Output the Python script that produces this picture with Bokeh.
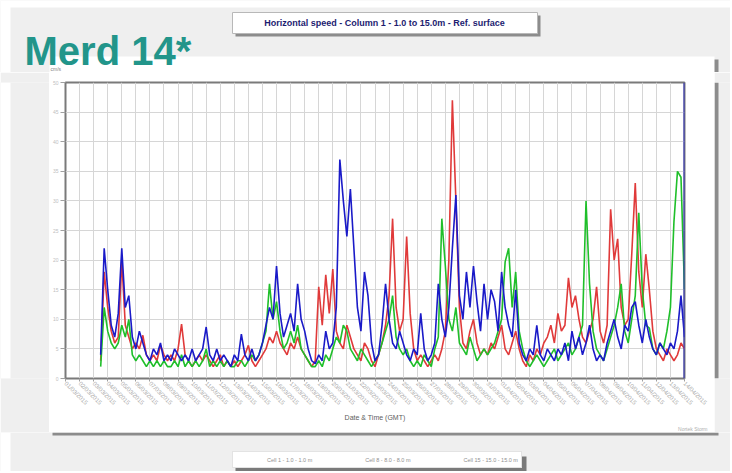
import pandas as pd
from bokeh.plotting import figure
from bokeh.models import (ColumnDataSource, Legend, LegendItem, Span, Title, GridBox,
                          FixedTicker, DatetimeTickFormatter, Range1d)
from bokeh.embed import file_html
from bokeh.resources import INLINE
from bokeh.core.properties import value

# ---------------- data ----------------
chart_title = "Horizontal speed - Column 1 - 1.0 to 15.0m - Ref. surface"
site_name = "Merd 14*"
y_unit = "cm/s"
x_title = "Date & Time (GMT)"
footer_text = "Nortek Storm"
series_names = ["Cell 1 - 1.0 - 1.0 m", "Cell 8 - 8.0 - 8.0 m", "Cell 15 - 15.0 - 15.0 m"]
series_colors = ["#e03a3a", "#1fbf2a", "#1a1ac8"]

first_sample = "2015-03-03 12:00"
sample_step = "6h"
axis_start = "2015-03-01"
axis_end = "2015-04-14"
y_ticks = [0, 5, 10, 15, 20, 25, 30, 35, 40, 45, 50]

red = [3, 18, 12, 8, 6, 7, 20, 9, 7, 5,
       6, 5, 7.3, 4, 3, 4, 3, 5.6, 4, 3,
       4, 3, 5, 9.2, 4, 3, 2, 3, 4, 3,
       4, 3, 2, 3, 4, 2, 3, 2, 3, 2,
       3, 4, 5.6, 3, 2, 3, 4, 5, 7, 6,
       8, 6, 5, 4, 6, 5, 7, 5, 4, 3,
       2, 3, 15.5, 9, 17.5, 11, 18.5, 8, 6, 5,
       9, 7, 5, 4, 3, 6, 5, 3, 2, 4,
       6, 9, 14, 27, 12, 8, 10, 24, 11, 5,
       3, 4, 3, 2, 3, 4, 3, 5, 8, 20,
       47, 30, 12, 6, 5, 8, 10, 6, 4, 5,
       4, 6, 5, 7, 9, 5, 4, 6, 8, 5,
       3, 2, 4, 3, 5, 4, 6, 7, 9, 6,
       11, 8, 9, 17, 12, 14, 10, 7, 6, 8,
       10, 15.5, 8, 6, 9, 28.6, 20, 23.6, 12, 9,
       10, 21, 33, 18, 12, 21, 15, 8, 5, 4,
       3, 5, 4, 3, 4, 6, 5]

green = [2, 12, 8, 6, 5, 6, 9, 7, 10, 4,
         3, 4, 3, 2, 3, 2, 3, 2, 3, 2,
         2, 3, 2, 4, 2, 3, 2, 3, 2, 3,
         5, 2, 3, 2, 3, 2, 3, 2, 2, 3,
         3, 2, 3, 4, 3, 4, 6, 8, 16, 10,
         13, 8, 5, 6, 8, 6, 9, 5, 4, 3,
         2, 2, 3, 2, 4, 3, 5, 7, 6, 9,
         8, 5, 4, 3, 5, 4, 3, 2, 3, 4,
         6, 8, 10, 14, 7, 5, 4, 5, 3, 2,
         3, 2, 4, 3, 2, 5, 7, 27, 19, 10,
         8, 12, 6, 5, 4, 7, 5, 3, 4, 5,
         4, 5, 6, 8, 10, 19.7, 22, 12, 18, 8,
         5, 3, 2, 3, 4, 3, 2, 3, 4, 5,
         3, 4, 5, 6, 4, 5, 7, 9, 30, 16,
         8, 5, 4, 3, 5, 7, 9, 12, 16, 8,
         6, 10, 14, 28, 15, 9, 8.5, 5, 4, 6,
         5, 8, 12, 26.5, 35, 34, 15]

blue = [4, 22, 15, 9, 7, 11, 22, 12, 14, 7,
        5, 8, 6, 4, 3, 5, 4, 6, 3, 4,
        3, 5, 4, 3, 4, 3, 5, 3, 4, 5,
        8.7, 4, 3, 5, 3, 4, 3, 2, 4, 3,
        7.5, 4, 3, 5, 3, 4, 6, 9, 12, 10,
        19, 11, 7, 9, 11, 8, 16, 10, 8, 5,
        3, 2.5, 4, 3, 8, 5, 6, 12, 37, 30,
        24, 32, 22, 12, 8, 18, 14, 6, 3, 4,
        9, 16, 10, 6, 5, 8, 6, 4, 3, 5,
        4, 11, 5, 3, 4, 6, 16, 10, 7, 12,
        22, 31, 14, 10, 18, 12, 19, 13, 8, 16,
        10, 15, 13, 8, 18, 12, 9, 7, 15, 6,
        4, 3, 5, 4, 9, 4, 3, 5, 4, 3,
        5, 4, 6, 3, 8, 5, 7, 4, 6, 9,
        5, 3, 4, 3, 6, 8, 10, 7, 5, 9,
        8, 12, 13, 9, 6, 10, 7, 5, 4, 6,
        5, 4, 6, 5, 8, 14, 7]

times = pd.date_range(first_sample, periods=len(blue), freq=sample_step)
src = ColumnDataSource(dict(t=times, red=red, green=green, blue=blue))
day_ticks = [int(d.value // 10**6) for d in pd.date_range(axis_start, axis_end, freq="1D")]

GRAY = "#efefef"
SHADOW = "#8c8c8c"
TOTAL_W = 730


def deco(w, h):
    f = figure(width=w, height=h, x_range=Range1d(0, w), y_range=Range1d(h, 0),
               output_backend="svg", toolbar_location=None, min_border=0,
               x_axis_location=None, y_axis_location=None, align="start")
    f.border_fill_color = GRAY
    f.background_fill_color = GRAY
    f.outline_line_color = None
    f.grid.visible = False
    return f


# ---------------- top strip (page y 0-72) ----------------
top = deco(TOTAL_W, 72)
top.quad(left=[0], right=[TOTAL_W], top=[0], bottom=[7], fill_color="white", line_color=None)
top.quad(left=[0], right=[10], top=[0], bottom=[72], fill_color="white", line_color=None)
top.quad(left=[52], right=[718], top=[59], bottom=[72], fill_color=SHADOW, line_color=None)
top.quad(left=[49], right=[714], top=[56], bottom=[72], fill_color="white", line_color=None)
top.quad(left=[235], right=[540], top=[15], bottom=[36], fill_color=SHADOW, line_color=None)
top.quad(left=[232], right=[537], top=[12], bottom=[33], fill_color="white", line_color="#b8b8b8")
top.text(x=[384], y=[22], text=[chart_title], text_align="center", text_baseline="middle",
         text_font=value("Liberation Sans"), text_font_size="9px", text_font_style="bold",
         text_color="#1c1c70")
top.text(x=[24], y=[50], text=[site_name], text_align="left", text_baseline="middle",
         text_font=value("Liberation Sans"), text_font_size="40px", text_font_style="bold",
         text_color="#22958a")
top.text(x=[50], y=[68], text=[y_unit], text_align="left", text_baseline="middle",
         text_font_size="5px", text_color="#808080")

# ---------------- main chart (page x 49-714, y 72-432) ----------------
p = figure(width=665, height=360, x_axis_type="datetime",
           x_range=Range1d(pd.Timestamp(axis_start), pd.Timestamp(axis_end)),
           y_range=Range1d(0, 50),
           output_backend="svg", toolbar_location=None, align="start",
           min_border_left=15, min_border_right=30,
           min_border_top=10, min_border_bottom=54)
p.border_fill_color = "white"
p.background_fill_color = "white"
p.outline_line_color = "#7a7a7a"
p.outline_line_width = 2

p.xgrid.ticker = FixedTicker(ticks=day_ticks)
p.xgrid.grid_line_color = "#d6d6d6"
p.ygrid.grid_line_color = "#d6d6d6"

p.xaxis.ticker = FixedTicker(ticks=day_ticks)
fmt = "%d/%m/%Y"
p.xaxis.formatter = DatetimeTickFormatter(days=fmt, months=fmt, years=fmt, hours=fmt,
                                          hourmin=fmt, minutes=fmt, minsec=fmt, seconds=fmt,
                                          milliseconds=fmt, microseconds=fmt)
p.xaxis.major_label_orientation = -0.785
p.xaxis.major_label_text_font_size = "6px"
p.xaxis.major_label_text_color = "#a8a8a8"
p.xaxis.major_label_standoff = 1
p.xaxis.major_tick_line_color = "#a0a0a0"
p.xaxis.major_tick_out = 3
p.xaxis.major_tick_in = 0
p.xaxis.minor_tick_line_color = None
p.xaxis.axis_line_color = "#7a7a7a"
p.xaxis.axis_label = x_title
p.xaxis.axis_label_text_font_size = "7px"
p.xaxis.axis_label_text_font_style = "normal"
p.xaxis.axis_label_text_color = "#606060"
p.xaxis.axis_label_standoff = 3

p.yaxis.ticker = FixedTicker(ticks=y_ticks)
p.yaxis.major_label_text_font_size = "5px"
p.yaxis.major_label_text_color = "#c0c0c0"
p.yaxis.major_label_standoff = 2
p.yaxis.major_tick_line_color = "#a0a0a0"
p.yaxis.major_tick_out = 5
p.yaxis.major_tick_in = 0
p.yaxis.minor_tick_line_color = None
p.yaxis.axis_line_color = "#7a7a7a"

p.add_layout(Title(text=footer_text, align="right", offset=-23, text_font_size="5px",
                   text_font_style="normal", text_color="#b0b0b0", standoff=0), "below")

r_red = p.line("t", "red", source=src, line_color=series_colors[0], line_width=1.6)
r_green = p.line("t", "green", source=src, line_color=series_colors[1], line_width=1.6)
r_blue = p.line("t", "blue", source=src, line_color=series_colors[2], line_width=1.6)

p.add_layout(Span(location=pd.Timestamp(axis_end), dimension="height",
                  line_color="#3030c0", line_width=2))

# ---------------- side strips ----------------
left_strip = deco(49, 360)
left_strip.quad(left=[0], right=[10], top=[0], bottom=[360], fill_color="white", line_color=None)
right_strip = deco(TOTAL_W - 714, 360)
right_strip.quad(left=[0], right=[4], top=[0], bottom=[360], fill_color=SHADOW, line_color=None)

# ---------------- bottom strip (page y 432-471): legend ----------------
bottom = deco(TOTAL_W, 39)
bottom.quad(left=[0], right=[10], top=[0], bottom=[39], fill_color="white", line_color=None)
bottom.quad(left=[52], right=[718], top=[0], bottom=[3], fill_color=SHADOW, line_color=None)
bottom.quad(left=[235], right=[526], top=[24], bottom=[39], fill_color="#7a7a7a", line_color=None)
lg = [bottom.line(x=[], y=[], line_color=c, line_width=1.3) for c in series_colors]
legend = Legend(items=[LegendItem(label=n, renderers=[r]) for n, r in zip(series_names, lg)],
                orientation="horizontal", location=(232, 3),
                label_text_font_size="5.5px", label_text_color="#909090",
                glyph_width=15, glyph_height=9, label_height=9, label_standoff=16,
                spacing=22, padding=3, margin=0,
                background_fill_color="white", background_fill_alpha=1,
                border_line_color="#c8c8c8")
bottom.add_layout(legend, "center")

layout = GridBox(children=[(top, 0, 0, 1, 3),
                           (left_strip, 1, 0), (p, 1, 1), (right_strip, 1, 2),
                           (bottom, 2, 0, 1, 3)],
                 spacing=0)
open("out.html", "w").write(file_html(layout, INLINE))
